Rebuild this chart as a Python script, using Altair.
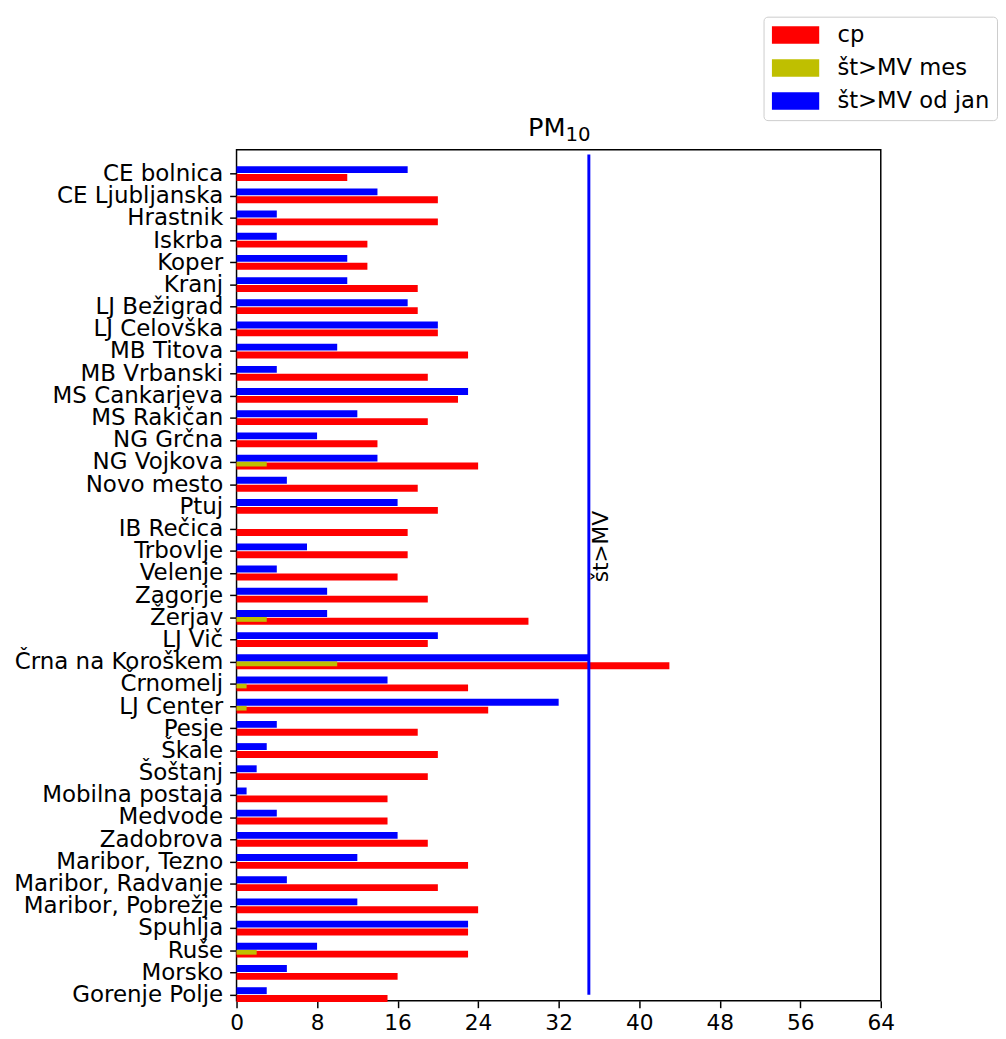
import altair as alt
import pandas as pd

stations = [
    "CE bolnica", "CE Ljubljanska", "Hrastnik", "Iskrba", "Koper", "Kranj",
    "LJ Bežigrad", "LJ Celovška", "MB Titova", "MB Vrbanski", "MS Cankarjeva",
    "MS Rakičan", "NG Grčna", "NG Vojkova", "Novo mesto", "Ptuj", "IB Rečica",
    "Trbovlje", "Velenje", "Zagorje", "Žerjav", "LJ Vič", "Črna na Koroškem",
    "Črnomelj", "LJ Center", "Pesje", "Škale", "Šoštanj", "Mobilna postaja",
    "Medvode", "Zadobrova", "Maribor, Tezno", "Maribor, Radvanje",
    "Maribor, Pobrežje", "Spuhlja", "Ruše", "Morsko", "Gorenje Polje",
]
cp = [11, 20, 20, 13, 13, 18, 18, 20, 23, 19, 22, 19, 14, 24, 18, 20, 17, 17, 16,
      19, 29, 19, 43, 23, 25, 18, 20, 19, 15, 15, 19, 23, 20, 24, 23, 23, 16, 15]
st_mes = [0, 0, 0, 0, 0, 0, 0, 0, 0, 0, 0, 0, 0, 3, 0, 0, 0, 0, 0,
          0, 3, 0, 10, 1, 1, 0, 0, 0, 0, 0, 0, 0, 0, 0, 0, 2, 0, 0]
st_jan = [17, 14, 4, 4, 11, 11, 17, 20, 10, 4, 23, 12, 8, 14, 5, 16, 0, 7, 4,
          9, 9, 20, 35, 15, 32, 4, 3, 2, 1, 4, 16, 12, 5, 12, 23, 8, 5, 3]
series_names = ["cp", "št>MV mes", "št>MV od jan"]
series_colors = ["#ff0000", "#bfbf00", "#0000ff"]
x_ticks = [0, 8, 16, 24, 32, 40, 48, 56, 64]
limit_value = [35]
limit_label = ["št>MV"]
title_main = ["PM"]
title_sub = ["10"]

rows = []
for s, a, b, c in zip(stations, cp, st_mes, st_jan):
    rows.append({"station": s, "series": series_names[0], "value": a})
    rows.append({"station": s, "series": series_names[1], "value": b})
    rows.append({"station": s, "series": series_names[2], "value": c})
df = pd.DataFrame(rows)
lim = pd.DataFrame({"x": limit_value, "label": limit_label})
t_main = pd.DataFrame({"t": title_main})
t_sub = pd.DataFrame({"t": title_sub})

W, H = 654, 864
FONT = "DejaVu Sans"

x_enc = alt.X(
    "value:Q",
    scale=alt.Scale(domain=[0, 64], nice=False),
    axis=alt.Axis(values=x_ticks, title=None, grid=False, domain=False,
                  labelFontSize=22, tickSize=7, tickWidth=1.5, tickColor="black",
                  labelColor="black", labelPadding=5, labelFlush=False),
)
y_enc = alt.Y(
    "station:N",
    sort=stations,
    scale=alt.Scale(domain=stations, range=[13.5, 869.5], paddingInner=0, paddingOuter=0),
    axis=alt.Axis(title=None, domain=False, labelFontSize=23.3, tickSize=7,
                  tickWidth=1.5, tickColor="black", labelColor="black",
                  labelPadding=7, labelLimit=0),
)
color_enc = alt.Color(
    "series:N",
    scale=alt.Scale(domain=series_names, range=series_colors),
    legend=alt.Legend(
        title=None, orient="none", legendX=535, legendY=-135,
        symbolType="M-1,-0.89L3.8,-0.89L3.8,0.89L-1,0.89Z", symbolSize=400,
        symbolStrokeWidth=0, labelFontSize=23, labelColor="black",
        labelOffset=45, rowPadding=9.5, padding=7, strokeColor="#cccccc",
        fillColor="white", cornerRadius=4,
    ),
)

base = alt.Chart(df)
red = base.transform_filter(alt.datum.series == series_names[0]).mark_bar(
    height=7, yOffset=3.5).encode(x=x_enc, y=y_enc, color=color_enc)
olive = base.transform_filter(
    (alt.datum.series == series_names[1]) & (alt.datum.value > 0)
).mark_bar(height=5, yOffset=1.5).encode(x=x_enc, y=y_enc, color=color_enc)
blue = base.transform_filter(
    (alt.datum.series == series_names[2]) & (alt.datum.value > 0)
).mark_bar(height=7, yOffset=-4.5).encode(x=x_enc, y=y_enc, color=color_enc)

rule = alt.Chart(lim).mark_rule(color="#0000ff", strokeWidth=3).encode(
    x=alt.X("x:Q"), y=alt.value(5), y2=alt.value(858))
label = alt.Chart(lim).mark_text(
    angle=270, align="center", baseline="top", fontSize=22, color="black", dy=2
).encode(x=alt.X("x:Q"), y=alt.value(403), text="label:N")

title1 = alt.Chart(t_main).mark_text(
    align="left", baseline="alphabetic", fontSize=26, color="black"
).encode(x=alt.value(296), y=alt.value(-14), text="t:N")
title2 = alt.Chart(t_sub).mark_text(
    align="left", baseline="alphabetic", fontSize=20, color="black"
).encode(x=alt.value(334), y=alt.value(-9), text="t:N")

chart = alt.layer(red, olive, blue, rule, label, title1, title2).properties(
    width=W, height=H,
    padding={"left": 5, "top": 0, "right": 0, "bottom": 0},
).configure(font=FONT).configure_view(stroke="black", strokeWidth=1.5)

chart.save("out.html", embed_options={"renderer": "svg", "actions": False})
